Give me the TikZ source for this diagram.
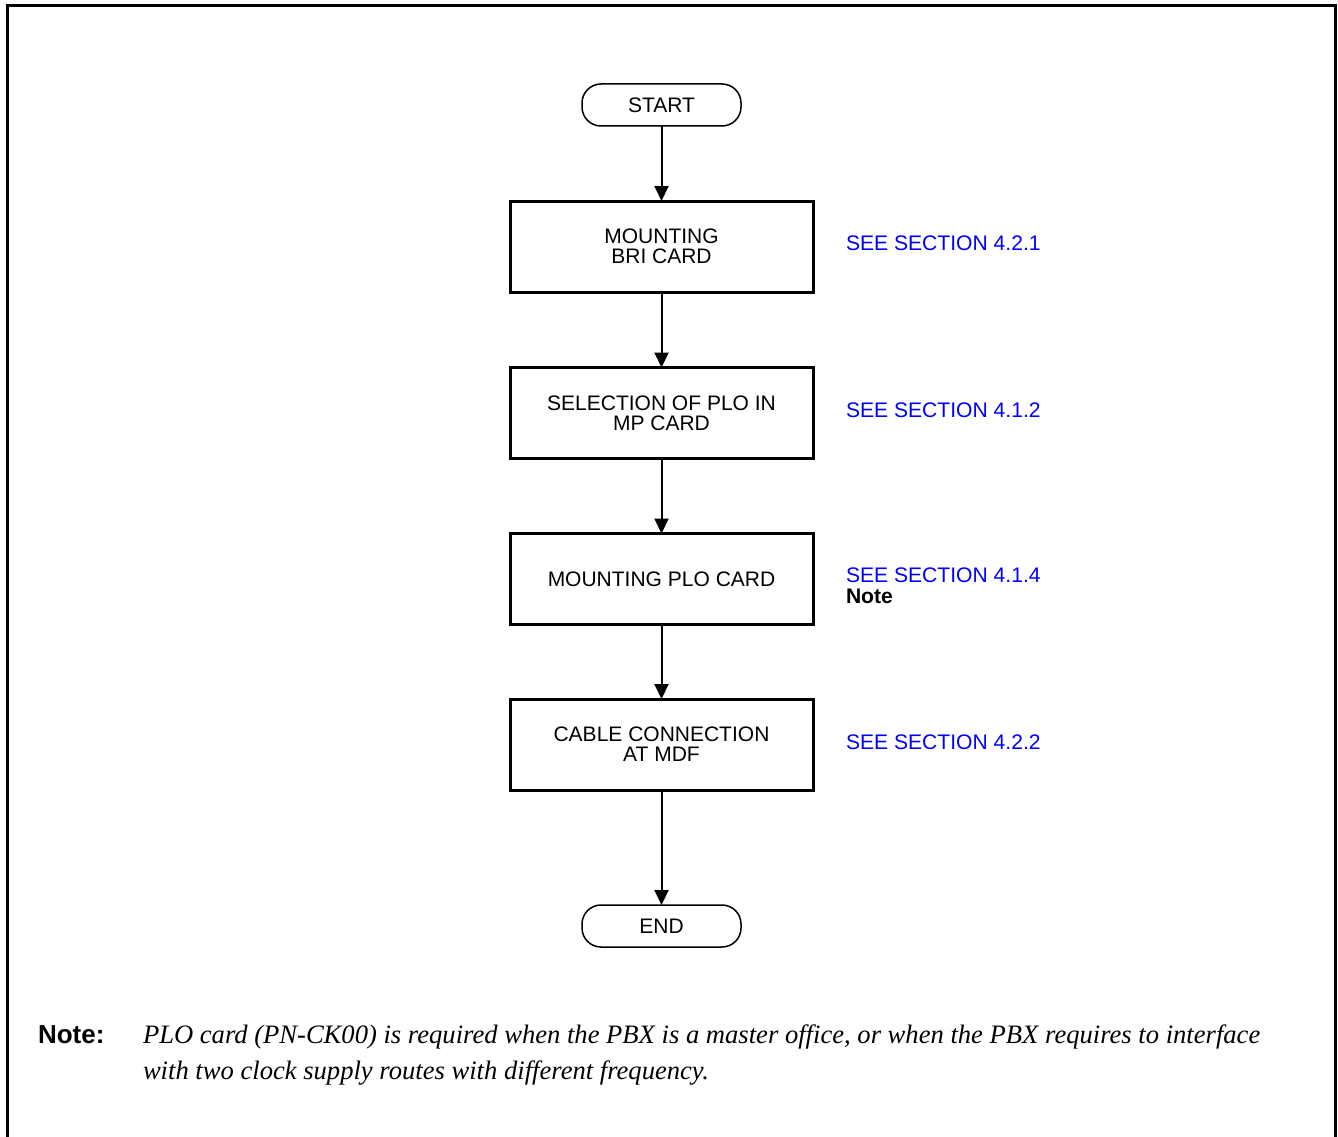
\documentclass[tikz,border=0pt]{standalone}
\usepackage{fontspec}
\setmainfont{Liberation Serif}
\setsansfont{Liberation Sans}
\usetikzlibrary{arrows.meta}
\definecolor{linkblue}{RGB}{0,0,255}
\begin{document}
\begin{tikzpicture}[x=1pt,y=-1pt,
  every node/.style={inner sep=0pt, outer sep=0pt},
  procbox/.style={draw, line width=3pt, minimum width=303pt, minimum height=91pt, align=center,
    font=\sffamily\fontsize{21}{20}\selectfont},
  termbox/.style={draw, line width=1.5pt, minimum width=159pt, minimum height=42pt, rounded corners=19pt,
    font=\sffamily\fontsize{21}{20}\selectfont},
  seelabel/.style={anchor=west, align=left, text=linkblue, font=\sffamily\fontsize{21.1}{21}\selectfont},
  notestyle/.style={anchor=base west, font=\itshape\fontsize{26.6}{30}\selectfont},
  flow/.style={line width=2pt, -{Triangle[length=15pt,width=14pt]}}
]
\useasboundingbox (0,0) rectangle (1338,1137);
\draw[line width=3pt] (7.5,1137) -- (7.5,5.5) -- (1335,5.5) -- (1335,1137);

\node[termbox] (start) at (661.5,105) {START};
\node[procbox] (b1) at (661.5,246.5) {MOUNTING\\BRI CARD};
\node[procbox] (b2) at (661.5,413) {SELECTION OF PLO IN\\MP CARD};
\node[procbox] (b3) at (661.5,579) {MOUNTING PLO CARD};
\node[procbox] (b4) at (661.5,744.5) {CABLE CONNECTION\\AT MDF};
\node[termbox] (end) at (661.5,926) {END};

\draw[flow] (start.south) -- (b1.north);
\draw[flow] (b1.south) -- (b2.north);
\draw[flow] (b2.south) -- (b3.north);
\draw[flow] (b3.south) -- (b4.north);
\draw[flow] (b4.south) -- (end.north);

\node[seelabel] (s1) at (846,243) {SEE SECTION 4.2.1};
\node[seelabel] (s2) at (846,410) {SEE SECTION 4.1.2};
\node[seelabel, text=black] (s3) at (846,586) {\textcolor{linkblue}{SEE SECTION 4.1.4}\\\textbf{Note}};
\node[seelabel] (s4) at (846,742) {SEE SECTION 4.2.2};

\node[anchor=base west, font=\sffamily\bfseries\fontsize{26}{30}\selectfont] (notelbl) at (38,1043) {Note:};
\node[notestyle] (note1) at (143,1043)
  {PLO card (PN-CK00) is required when the PBX is a master office, or when the PBX requires to interface};
\node[notestyle] (note2) at (143,1079)
  {with two clock supply routes with different frequency.};
\end{tikzpicture}
\end{document}
